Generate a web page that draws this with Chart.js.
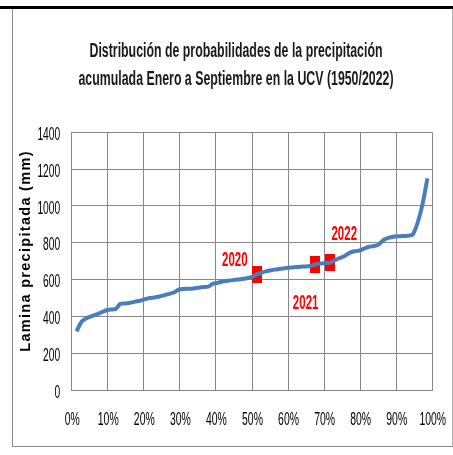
<!DOCTYPE html>
<html>
<head>
<meta charset="utf-8">
<script src="https://cdn.jsdelivr.net/npm/chart.js"></script>
<style>
  html, body { margin: 0; padding: 0; background: #fff; }
  #wrap { position: relative; width: 453px; height: 455px; overflow: hidden; }
  #barra { position: absolute; left: 0; top: 6px; width: 453px; height: 3px; background: #000; }
  #marco { position: absolute; left: 12px; top: 9px; width: 441px; height: 438px; box-sizing: border-box;
           border-left: 1px solid #8c8c8c; border-bottom: 1px solid #8c8c8c; border-right: 1px solid #b0b0b0; }
  canvas { position: absolute; left: 0; top: 0; }
</style>
</head>
<body>
<div id="wrap">
  <div id="barra"></div>
  <div id="marco"></div>
  <canvas id="grafico" width="453" height="455"></canvas>
</div>
<script>
// probabilidad de no excedencia (%) de cada año ordenado, 1950-2022
const probabilidad = [
  1.35, 2.70, 4.05, 5.41, 6.76, 8.11, 9.46, 10.81, 12.16, 13.51,
  14.86, 16.22, 17.57, 18.92, 20.27, 21.62, 22.97, 24.32, 25.68, 27.03,
  28.38, 29.73, 31.08, 32.43, 33.78, 35.14, 36.49, 37.84, 39.19, 40.54,
  41.89, 43.24, 44.59, 45.95, 47.30, 48.65, 50.00, 51.35, 52.70, 54.05,
  55.41, 56.76, 58.11, 59.46, 60.81, 62.16, 63.51, 64.86, 66.22, 67.57,
  68.92, 70.27, 71.62, 72.97, 74.32, 75.68, 77.03, 78.38, 79.73, 81.08,
  82.43, 83.78, 85.14, 86.49, 87.84, 89.19, 90.54, 91.89, 93.24, 94.59,
  95.95, 97.30, 98.65
];
// lamina precipitada ene-sep (mm), ordenada
const lamina = [
  318, 370, 390, 400, 410, 420, 432, 437, 440, 468,
  470, 474, 480, 485, 493, 500, 503, 508, 515, 522,
  530, 546, 549, 550, 552, 556, 559, 562, 578, 583,
  589, 593, 597, 600, 603, 607, 614, 628, 638, 646,
  651, 655, 659, 663, 666, 668, 670, 671, 674, 682,
  687, 689, 691, 705, 717, 728, 745, 754, 757, 768,
  778, 782, 790, 815, 826, 833, 835, 836, 838, 845,
  910, 1010, 1150
];
const anosMarcados = ['2020', '2021', '2022'];
const rangoMarcado = [38, 50, 53];   // posicion (1..73) en la serie ordenada
const ticksX = [0, 10, 20, 30, 40, 50, 60, 70, 80, 90, 100];
const ticksY = [0, 200, 400, 600, 800, 1000, 1200, 1400];

const tituloLineas = [
  'Distribución de probabilidades de la precipitación',
  'acumulada Enero a Septiembre en la UCV (1950/2022)'
];
const tituloEjeY = 'Lamina precipitada (mm)';

const serie = probabilidad.map((p, i) => ({ x: p, y: lamina[i] }));
const marcas = rangoMarcado.map(r => ({ x: probabilidad[r - 1], y: lamina[r - 1] }));

// marcador rojo rectangular
const marcaImg = document.createElement('canvas');
marcaImg.width = 10; marcaImg.height = 17;
const mctx = marcaImg.getContext('2d');
mctx.fillStyle = '#ff0000';
mctx.fillRect(0, 0, 10, 17);

function textoAngosto(ctx, txt, x, y, sx, align) {
  ctx.save();
  ctx.translate(x, y);
  ctx.scale(sx, 1);
  ctx.textAlign = align;
  ctx.textBaseline = 'alphabetic';
  ctx.fillText(txt, 0, 0);
  ctx.restore();
}

const textos = {
  id: 'textos',
  afterDraw(chart) {
    const ctx = chart.ctx;
    const sx = chart.scales.x, sy = chart.scales.y;

    // titulo
    ctx.fillStyle = '#1a1a1a';
    ctx.font = 'bold 19.5px "Liberation Sans", Arial, sans-serif';
    const anchos = [293, 315], bases = [56.5, 84.5];
    tituloLineas.forEach((t, i) => {
      const w = ctx.measureText(t).width;
      textoAngosto(ctx, t, 236, bases[i], anchos[i] / w, 'center');
    });

    // titulo eje y, letras espaciadas
    ctx.save();
    ctx.fillStyle = '#000';
    ctx.font = 'bold 14.5px "Liberation Sans", Arial, sans-serif';
    ctx.letterSpacing = '1.3px';
    ctx.translate(29.5, 251);
    ctx.rotate(-Math.PI / 2);
    ctx.textAlign = 'center';
    ctx.textBaseline = 'alphabetic';
    ctx.fillText(tituloEjeY, 0, 0);
    ctx.restore();

    // ticks
    ctx.fillStyle = '#000';
    ctx.font = '18px "Liberation Sans", Arial, sans-serif';
    sy.ticks.forEach(t => {
      textoAngosto(ctx, String(t.value), sy.right - 11.5, sy.getPixelForValue(t.value) + 7.7, 0.57, 'right');
    });
    sx.ticks.forEach(t => {
      textoAngosto(ctx, t.value + '%', sx.getPixelForValue(t.value) + 0.5, sx.top + 34.5, 0.58, 'center');
    });

    // etiquetas de años
    ctx.fillStyle = '#ff0000';
    ctx.font = 'bold 19.5px "Liberation Sans", Arial, sans-serif';
    const dx = [-22, -9.7, 14.3], dy = [-8.3, 44.5, -22.5];
    const meta = chart.getDatasetMeta(1);
    meta.data.forEach((pt, i) => {
      textoAngosto(ctx, anosMarcados[i], pt.x + dx[i], pt.y + dy[i], 0.59, 'center');
    });
  }
};

new Chart(document.getElementById('grafico'), {
  type: 'line',
  data: {
    datasets: [{
      data: serie,
      borderColor: '#4a7ebb',
      borderWidth: 4,
      pointRadius: 0,
      tension: 0.25,
      fill: false
    }, {
      data: marcas,
      showLine: false,
      pointStyle: marcaImg,
      pointRadius: 8
    }]
  },
  options: {
    responsive: false,
    animation: false,
    layout: { padding: { top: 132.3, right: 20.7, left: 0, bottom: 0 } },
    plugins: { legend: { display: false }, tooltip: { enabled: false }, title: { display: false } },
    scales: {
      x: {
        type: 'linear',
        min: 0, max: 100,
        afterFit: s => { s.height = 65; },
        afterBuildTicks: s => { s.ticks = ticksX.map(v => ({ value: v })); },
        ticks: { display: false },
        grid: { color: '#878787', lineWidth: 1, drawTicks: false },
        border: { color: '#878787' }
      },
      y: {
        min: 0, max: 1400,
        afterFit: s => { s.width = 71.7; },
        afterBuildTicks: s => { s.ticks = ticksY.map(v => ({ value: v })); },
        ticks: { display: false },
        grid: { color: '#878787', lineWidth: 1, drawTicks: false },
        border: { color: '#878787' },
        title: { display: false }
      }
    }
  },
  plugins: [textos]
});
</script>
</body>
</html>
